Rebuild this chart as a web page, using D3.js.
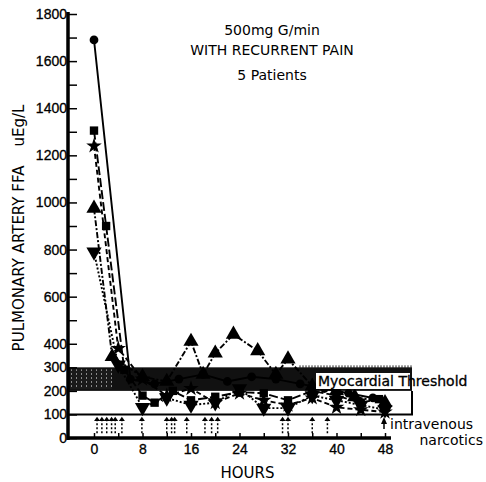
<!DOCTYPE html>
<html>
<head>
<meta charset="utf-8">
<script src="https://cdn.jsdelivr.net/npm/d3@7"></script>
<style>
  body { margin: 0; background: #fff; }
  svg { font-family: "DejaVu Sans", sans-serif; }
</style>
</head>
<body>
<div id="chart"></div>
<script>
// patient series (hours, FFA uEq/L)
var hoursA = [0, 6, 10, 14, 18, 22, 26, 30, 34, 38, 42, 46];
var ffaA = [1690, 250, 230, 250, 270, 240, 260, 250, 230, 210, 190, 170];
var hoursB = [0, 2, 5, 8, 10, 13, 16, 20, 24, 28, 32, 36, 40, 44, 47];
var ffaB = [1305, 900, 290, 180, 150, 200, 160, 175, 195, 190, 160, 200, 180, 150, 165];
var hoursC = [0, 4, 8, 12, 16, 20, 24, 28, 32, 36, 40, 44, 48];
var ffaC = [1240, 380, 250, 180, 210, 150, 190, 160, 140, 170, 130, 120, 110];
var hoursD = [0, 3, 8, 12, 16, 18, 20, 23, 27, 30, 32, 36, 40, 43, 48];
var ffaD = [975, 345, 260, 240, 410, 270, 360, 440, 370, 270, 335, 220, 200, 175, 150];
var hoursE = [0, 4, 8, 12, 16, 20, 24, 28, 32, 36, 40, 44, 48];
var ffaE = [790, 310, 130, 170, 140, 150, 210, 127, 127, 180, 160, 140, 120];

// times of intravenous narcotics
var narcoticHours = [0.5, 1.3, 2.1, 2.9, 3.5, 4.6, 7.9, 12, 12.8, 13.3, 15.3, 18.3, 19.4, 20.4, 31.1, 32, 36, 38.5];

var yTickValues = [0, 100, 200, 300, 400, 600, 800, 1000, 1200, 1400, 1600, 1800];
var xTickValues = [0, 8, 16, 24, 32, 40, 48];
var titleLines = ["500mg G/min", "WITH RECURRENT PAIN", "5 Patients"];

var W = 486, H = 482;
var axisX = 68; // y axis line position

var x = d3.scaleLinear().domain([0, 48]).range([94, 385]);
var y = d3.scaleLinear().domain([0, 1800]).range([438, 14]);

var svg = d3.select("#chart").append("svg")
  .attr("width", W).attr("height", H);

var defs = svg.append("defs");
var pat = defs.append("pattern").attr("id", "speck")
  .attr("width", 5).attr("height", 4).attr("patternUnits", "userSpaceOnUse");
pat.append("rect").attr("width", 5).attr("height", 4).attr("fill", "#1a1a1a");
pat.append("rect").attr("x", 1).attr("y", 1).attr("width", 1).attr("height", 2).attr("fill", "#888");

// myocardial threshold band 200-300
var bandRight = 412;
svg.append("rect")
  .attr("x", axisX).attr("y", y(300))
  .attr("width", bandRight - axisX).attr("height", y(200) - y(300))
  .attr("fill", "#111");
svg.append("rect")
  .attr("x", axisX + 2).attr("y", y(300) + 2)
  .attr("width", 42).attr("height", y(200) - y(300) - 4)
  .attr("fill", "url(#speck)");
// comb marks along top of band
svg.append("g").selectAll("line")
  .data(d3.range(300, bandRight, 3))
  .join("line")
  .attr("x1", d => d).attr("x2", d => d)
  .attr("y1", y(300) - 2).attr("y2", y(300) + 1)
  .attr("stroke", "#222").attr("stroke-width", 1);

// box 100-200
svg.append("path")
  .attr("d", `M${axisX},${y(100)}H${bandRight}V${y(200)}`)
  .attr("fill", "none").attr("stroke", "#000").attr("stroke-width", 2);

// series
var series = [
  { h: hoursA, v: ffaA, sym: d3.symbolCircle, size: 60, dash: null },
  { h: hoursB, v: ffaB, sym: d3.symbolSquare, size: 70, dash: "9,3" },
  { h: hoursC, v: ffaC, sym: d3.symbolStar, size: 75, dash: "5,3" },
  { h: hoursD, v: ffaD, sym: d3.symbolTriangle, size: 100, dash: "6,2,2,2" },
  { h: hoursE, v: ffaE, sym: d3.symbolTriangle, size: 100, dash: "2,2", down: true }
];

var line = d3.line().x(d => x(d[0])).y(d => y(d[1]));

series.forEach(function (s) {
  var pts = s.h.map((h, i) => [h, s.v[i]]);
  svg.append("path")
    .datum(pts)
    .attr("d", line)
    .attr("fill", "none")
    .attr("stroke", "#000")
    .attr("stroke-width", 1.9)
    .attr("stroke-dasharray", s.dash);
  svg.append("g").selectAll("path")
    .data(pts)
    .join("path")
    .attr("d", d3.symbol().type(s.sym).size(s.size))
    .attr("transform", d => `translate(${x(d[0])},${y(d[1])})` + (s.down ? " rotate(180)" : ""))
    .attr("fill", "#000");
});

// narcotic arrows
var arrows = svg.append("g");
narcoticHours.forEach(function (h) {
  var ax = x(h);
  arrows.append("line")
    .attr("x1", ax).attr("x2", ax)
    .attr("y1", y(80)).attr("y2", y(12))
    .attr("stroke", "#000").attr("stroke-width", 1.5)
    .attr("stroke-dasharray", "2,2");
  arrows.append("path")
    .attr("d", `M${ax - 3},${y(72)}L${ax},${y(90)}L${ax + 3},${y(72)}Z`)
    .attr("fill", "#000");
});

// axes
var yAxis = d3.axisLeft(y)
  .tickValues(d3.range(0, 1801, 100))
  .tickSize(-9)
  .tickPadding(4)
  .tickFormat(d => yTickValues.indexOf(d) >= 0 ? d : "");
var gy = svg.append("g")
  .attr("transform", `translate(${axisX},0)`)
  .call(yAxis);
gy.select(".domain").remove();
gy.selectAll(".tick line").attr("stroke-width", 1.5);
gy.selectAll("text").attr("font-size", 14).attr("fill", "#000").attr("x", -1)
  .attr("stroke", "#000").attr("stroke-width", 0.3);
svg.append("line")
  .attr("x1", axisX).attr("x2", axisX)
  .attr("y1", y(1800) - 2).attr("y2", y(0) + 2)
  .attr("stroke", "#000").attr("stroke-width", 3.5);

var xAxis = d3.axisBottom(x)
  .tickValues(d3.range(0, 49, 4))
  .tickSize(-5)
  .tickPadding(6)
  .tickFormat(d => xTickValues.indexOf(d) >= 0 ? d : "");
var gx = svg.append("g")
  .attr("transform", `translate(0,${y(0)})`)
  .call(xAxis);
gx.select(".domain").remove();
gx.selectAll(".tick line").attr("stroke-width", 1.5);
gx.selectAll("text").attr("font-size", 14).attr("fill", "#000")
  .attr("stroke", "#000").attr("stroke-width", 0.3);
svg.append("line")
  .attr("x1", axisX).attr("x2", 391)
  .attr("y1", y(0)).attr("y2", y(0))
  .attr("stroke", "#000").attr("stroke-width", 3.5);

// axis titles
svg.append("text")
  .attr("x", x(24) + 8).attr("y", 478)
  .attr("text-anchor", "middle")
  .attr("font-size", 15)
  .text("HOURS");

svg.append("text")
  .attr("transform", `translate(24,${228}) rotate(-90)`)
  .attr("text-anchor", "middle")
  .attr("font-size", 15)
  .style("white-space", "pre")
  .text("PULMONARY ARTERY FFA    uEg/L");

// title
svg.append("g").selectAll("text")
  .data(titleLines)
  .join("text")
  .attr("x", 272)
  .attr("y", (d, i) => [35, 55, 80][i])
  .attr("text-anchor", "middle")
  .attr("font-size", 14)
  .text(d => d);

// threshold label
svg.append("rect")
  .attr("x", 316).attr("y", 373).attr("width", 94).attr("height", 16)
  .attr("fill", "#fff");
svg.append("text")
  .attr("x", 318).attr("y", 386)
  .attr("font-size", 14)
  .attr("stroke", "#000").attr("stroke-width", 0.3)
  .text("Myocardial Threshold");

// narcotics legend
svg.append("line")
  .attr("x1", 384).attr("x2", 384)
  .attr("y1", 421).attr("y2", 429)
  .attr("stroke", "#000").attr("stroke-width", 1.5);
svg.append("path")
  .attr("d", "M381,424L384,417L387,424Z")
  .attr("fill", "#000");
svg.append("text")
  .attr("x", 390).attr("y", 429)
  .attr("font-size", 14)
  .text("intravenous");
svg.append("text")
  .attr("x", 483).attr("y", 445)
  .attr("text-anchor", "end")
  .attr("font-size", 14)
  .text("narcotics");
</script>
</body>
</html>
